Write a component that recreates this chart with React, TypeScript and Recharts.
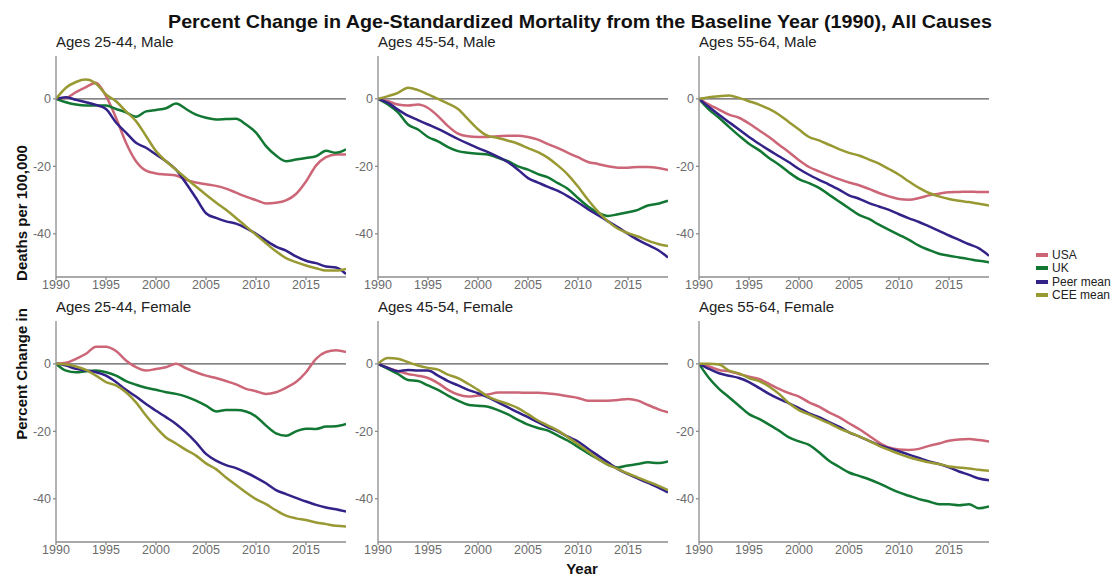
import { LineChart, Line, XAxis, YAxis, ReferenceLine } from "recharts"

const years = [
  1990, 1991, 1992, 1993, 1994, 1995, 1996, 1997, 1998, 1999,
  2000, 2001, 2002, 2003, 2004, 2005, 2006, 2007, 2008, 2009,
  2010, 2011, 2012, 2013, 2014, 2015, 2016, 2017, 2018, 2019,
]
const seriesNames = ["USA", "UK", "Peer mean", "CEE mean"]
const seriesColors = ["#CC6677", "#117733", "#332288", "#999933"]
const xTicks = [1990, 1995, 2000, 2005, 2010, 2015]
const yTicks = [-40, -20, 0]

// Ages 25-44, Male
const usaM2544 = [0, 0.3, 2, 3.5, 4.8, 0.8, -5.6, -13, -18.5, -21.3, -22.1, -22.4, -22.7, -24, -24.8, -25.3, -25.8, -26.6, -27.8, -29, -30, -31, -30.8, -30.1, -28.2, -24.5, -19.8, -17.3, -16.5, -16.5]
const ukM2544 = [0, -1, -1.7, -2, -2, -2, -3, -4, -5.3, -3.7, -3.3, -2.8, -1.4, -3, -4.7, -5.6, -6.1, -6, -5.9, -7.6, -10, -14, -16.8, -18.5, -18, -17.5, -17, -15.4, -16, -15]
const peerM2544 = [0, 0.5, -0.3, -1, -1.8, -3, -7, -10, -13, -14.5, -16.5, -18.5, -21, -25, -29.4, -33.9, -35.3, -36.3, -37, -38.3, -40, -42, -43.8, -45, -46.7, -48, -48.7, -49.7, -50, -51.9]
const ceeM2544 = [0, 3.3, 5, 5.7, 4.5, 1.3, -0.7, -3.7, -6.6, -11, -15.5, -18.5, -21, -23.5, -26, -28.4, -30.7, -32.9, -35.3, -37.8, -40.3, -42.8, -45.2, -47.2, -48.4, -49.4, -50.2, -50.9, -50.9, -50.4]

// Ages 45-54, Male
const usaM4554 = [0, -0.7, -1.7, -2, -1.7, -2.7, -5.1, -8.1, -10.3, -11.1, -11.3, -11.3, -11.1, -10.9, -10.9, -11.3, -12.1, -13.4, -14.6, -16, -17.3, -18.7, -19.3, -20, -20.4, -20.4, -20.2, -20.2, -20.5, -21.1]
const ukM4554 = [0, -1.7, -4, -7.6, -9.1, -11.3, -12.6, -14.3, -15.5, -16, -16.3, -16.5, -17.5, -18.5, -20, -21, -22.3, -23.3, -25, -26.7, -29.4, -31.9, -33.7, -34.7, -34.2, -33.6, -32.9, -31.6, -31.1, -30.2]
const peerM4554 = [0, -1.2, -3.2, -5, -6.3, -7.6, -8.9, -10.4, -11.9, -13.3, -14.6, -15.8, -17.2, -18.8, -21, -23.5, -24.8, -26.1, -27.3, -28.9, -30.7, -32.7, -34.5, -36.3, -38.1, -40, -41.8, -43.3, -44.8, -47]
const ceeM4554 = [0, 0.8, 1.8, 3.3, 2.6, 1.3, 0, -1.4, -3, -6, -9, -11, -11.6, -12.4, -13.3, -14.6, -15.8, -17.5, -19.8, -22.5, -26, -29.9, -33.4, -36.3, -38.5, -39.8, -40.8, -42, -43, -43.6]

// Ages 55-64, Male
const usaM5564 = [0, -1.7, -3.2, -4.7, -5.6, -7.3, -9.3, -11.3, -13.6, -15.8, -18.2, -20.2, -21.5, -22.7, -23.8, -24.8, -25.6, -26.7, -27.9, -28.9, -29.7, -29.9, -29.4, -28.6, -28.1, -27.7, -27.6, -27.5, -27.6, -27.6]
const ukM5564 = [0, -3.2, -5.6, -8.3, -10.9, -13.3, -15.2, -17.5, -19.5, -21.8, -23.8, -25, -26.4, -28.4, -30.4, -32.4, -34.4, -35.6, -37.3, -38.8, -40.3, -41.8, -43.5, -44.8, -45.9, -46.5, -47, -47.5, -48, -48.4]
const peerM5564 = [0, -2.4, -4.7, -6.9, -9.1, -11.3, -13.3, -15.2, -17, -18.8, -20.8, -22.5, -24, -25.4, -26.9, -28.6, -29.6, -30.9, -31.9, -32.9, -34.2, -35.4, -36.5, -37.8, -39.1, -40.5, -41.8, -43.1, -44.3, -46.5]
const ceeM5564 = [0, 0.5, 0.8, 1, 0.3, -0.7, -1.7, -3, -4.7, -6.9, -9.1, -11.3, -12.3, -13.6, -14.9, -16, -16.8, -18, -19.2, -20.8, -22.5, -24.5, -26.4, -27.9, -28.9, -29.7, -30.2, -30.6, -31.1, -31.6]

// Ages 25-44, Female
const usaF2544 = [0, 0.3, 1.5, 3, 5.1, 5.1, 3.8, 1, -1, -2, -1.5, -1, 0, -1.3, -2.5, -3.5, -4.2, -5.1, -6.1, -7.4, -8.1, -8.9, -8.4, -7.1, -5.4, -2.5, 1.5, 3.5, 4, 3.5]
const ukF2544 = [0, -2, -2.5, -2.2, -2, -2.5, -3.5, -5.1, -6.2, -7.1, -7.7, -8.4, -8.9, -9.7, -10.9, -12.4, -14.1, -13.7, -13.7, -14.1, -15.6, -18.3, -20.6, -21.3, -20, -19.2, -19.3, -18.6, -18.5, -17.8]
const peerF2544 = [0, -0.5, -1.5, -2, -2.5, -3.5, -5.4, -7.7, -9.7, -11.9, -13.9, -15.8, -17.8, -20.3, -23.3, -26.7, -28.7, -30, -30.9, -32.2, -33.7, -35.4, -37.4, -38.6, -39.7, -40.8, -41.8, -42.6, -43.1, -43.8]
const ceeF2544 = [0, -0.2, -0.8, -1.8, -3.5, -5.4, -6.4, -8.4, -11.4, -15.3, -18.8, -21.8, -23.6, -25.5, -27.2, -29.5, -31.2, -33.7, -35.9, -38.1, -40.1, -41.6, -43.4, -45, -45.8, -46.3, -47, -47.5, -48, -48.2]

// Ages 45-54, Female
const usaF4554 = [0, -1.2, -2.2, -3, -3.5, -4.2, -5.7, -7.7, -9.1, -9.7, -9.4, -9.1, -8.5, -8.5, -8.5, -8.6, -8.6, -8.8, -9.1, -9.6, -10.1, -10.9, -10.9, -10.9, -10.7, -10.4, -10.9, -12.2, -13.4, -14.4]
const ukF4554 = [0, -1.5, -3, -4.8, -5.1, -6.4, -7.7, -9.4, -10.9, -12.1, -12.4, -12.7, -13.7, -15, -16.6, -18, -19, -19.8, -21.3, -22.8, -24.6, -26.5, -28.2, -29.9, -30.7, -30.1, -29.7, -29.2, -29.4, -28.9]
const peerF4554 = [0, -1.2, -2.2, -1.8, -2, -2, -3.5, -5.1, -6.4, -7.7, -8.7, -9.9, -11.4, -12.9, -14.4, -15.8, -17.3, -18.8, -20, -21.6, -23, -25.2, -27.2, -29.2, -31.2, -32.7, -34, -35.3, -36.6, -38.1]
const ceeF4554 = [0, 1.7, 1.5, 0.5, -0.5, -1.2, -1.7, -3.2, -4.2, -5.9, -7.7, -9.7, -10.9, -11.9, -13.1, -14.9, -16.8, -18.3, -19.8, -21.8, -23.8, -25.9, -28.2, -29.9, -31.2, -32.5, -33.7, -34.9, -36.1, -37.4]

// Ages 55-64, Female
const usaF5564 = [0, -0.8, -1.8, -2.2, -3, -3.8, -4.5, -5.9, -7.4, -8.7, -9.7, -11.4, -12.7, -14.4, -15.8, -17.6, -19.3, -21.3, -23.3, -24.8, -25.4, -25.5, -25.2, -24.3, -23.6, -22.8, -22.4, -22.3, -22.6, -23]
const ukF5564 = [0, -4.2, -7.4, -9.9, -12.4, -14.9, -16.3, -18, -19.8, -21.8, -23, -24, -26.2, -28.7, -30.5, -32.2, -33.2, -34.2, -35.4, -36.8, -38.1, -39.1, -40.1, -40.8, -41.6, -41.6, -41.9, -41.6, -42.8, -42.3]
const peerF5564 = [0, -1.5, -2.8, -3.5, -4.2, -5.4, -7.1, -8.9, -10.4, -11.7, -13.1, -14.7, -15.8, -17.3, -18.6, -20.3, -21.5, -22.8, -24, -25, -25.9, -26.9, -27.9, -28.9, -29.7, -30.7, -31.9, -32.9, -34, -34.5]
const ceeF5564 = [0, 0, -0.2, -2, -2.8, -4.2, -5.1, -6.7, -8.9, -11.7, -13.7, -15, -16.3, -17.6, -19.1, -20.3, -21.5, -22.8, -24.3, -25.5, -26.7, -27.7, -28.5, -29.2, -29.7, -30.4, -30.7, -31, -31.4, -31.7]

const panels = [
  { title: "Ages 25-44, Male", series: [usaM2544, ukM2544, peerM2544, ceeM2544] },
  { title: "Ages 45-54, Male", series: [usaM4554, ukM4554, peerM4554, ceeM4554] },
  { title: "Ages 55-64, Male", series: [usaM5564, ukM5564, peerM5564, ceeM5564] },
  { title: "Ages 25-44, Female", series: [usaF2544, ukF2544, peerF2544, ceeF2544] },
  { title: "Ages 45-54, Female", series: [usaF4554, ukF4554, peerF4554, ceeF4554] },
  { title: "Ages 55-64, Female", series: [usaF5564, ukF5564, peerF5564, ceeF5564] },
]

const plotLefts = [56, 378, 699]
const plotTops = [56, 321]
const FONT = "'Liberation Sans', Arial, sans-serif"
const tickStyle = { fill: "#6b6b6b", fontSize: 12.5, fontFamily: FONT }

function Panel({ title, series, left, top }: { title: string; series: number[][]; left: number; top: number }) {
  const data = years.map((year, i) => {
    const row: Record<string, number> = { year }
    seriesNames.forEach((name, s) => {
      row[name] = series[s][i]
    })
    return row
  })

  return (
    <>
      <div
        style={{
          position: "absolute",
          left: left,
          top: top - 22,
          fontSize: 15,
          lineHeight: "16px",
          color: "#222",
          fontFamily: FONT,
          whiteSpace: "nowrap",
        }}
      >
        {title}
      </div>
      <div style={{ position: "absolute", left: left - 40, top: top - 10 }}>
        <LineChart width={335} height={256} data={data} margin={{ top: 10, right: 5, left: 0, bottom: 0 }}>
          <XAxis
            dataKey="year"
            type="number"
            domain={[1990, 2019]}
            allowDataOverflow
            ticks={xTicks}
            interval={0}
            height={25}
            tickSize={3}
            tickMargin={0}
            tick={tickStyle}
            stroke="#8c8c8c"
            strokeWidth={1.3}
          />
          <YAxis
            type="number"
            domain={[-52.8, 12.7]}
            allowDataOverflow
            ticks={yTicks}
            interval={0}
            width={40}
            tickSize={3}
            tickMargin={2}
            tick={tickStyle}
            stroke="#8c8c8c"
            strokeWidth={1.3}
          />
          <ReferenceLine y={0} stroke="#5a5a5a" strokeWidth={1.4} />
          {seriesNames.map((name, s) => (
            <Line
              key={name}
              type="monotone"
              dataKey={name}
              stroke={seriesColors[s]}
              strokeWidth={2.5}
              dot={false}
              activeDot={false}
              isAnimationActive={false}
            />
          ))}
        </LineChart>
      </div>
    </>
  )
}

export default function App() {
  return (
    <div
      style={{
        position: "relative",
        width: 1113,
        height: 575,
        background: "#fff",
        overflow: "hidden",
        fontFamily: FONT,
      }}
    >
      <style>{`body{margin:0}`}</style>
      {panels.map((p, i) => (
        <Panel
          key={p.title}
          title={p.title}
          series={p.series}
          left={plotLefts[i % 3]}
          top={plotTops[Math.floor(i / 3)]}
        />
      ))}

      <svg width={1113} height={575} style={{ position: "absolute", left: 0, top: 0, pointerEvents: "none" }}>
        <text
          x={580}
          y={21}
          textAnchor="middle"
          dominantBaseline="central"
          fontSize={18.5}
          fontWeight="bold"
          fontFamily={FONT}
          fill="#111"
          textLength={824}
          lengthAdjust="spacingAndGlyphs"
        >
          Percent Change in Age-Standardized Mortality from the Baseline Year (1990), All Causes
        </text>
        <text
          x={21}
          y={374}
          textAnchor="middle"
          dominantBaseline="central"
          fontSize={15}
          fontWeight="bold"
          fontFamily={FONT}
          fill="#111"
          transform="rotate(-90 21 374)"
        >
          Percent Change in
        </text>
        <text
          x={21}
          y={213}
          textAnchor="middle"
          dominantBaseline="central"
          fontSize={15}
          fontWeight="bold"
          fontFamily={FONT}
          fill="#111"
          transform="rotate(-90 21 213)"
        >
          Deaths per 100,000
        </text>
        <text
          x={582}
          y={568}
          textAnchor="middle"
          dominantBaseline="central"
          fontSize={15}
          fontWeight="bold"
          fontFamily={FONT}
          fill="#111"
        >
          Year
        </text>
      </svg>

      {seriesNames.map((name, s) => (
        <div
          key={name}
          style={{
            position: "absolute",
            left: 1036,
            top: 248 + s * 13.5,
            height: 13,
            display: "flex",
            alignItems: "center",
            fontSize: 12,
            color: "#222",
            whiteSpace: "nowrap",
          }}
        >
          <span style={{ display: "inline-block", width: 12, height: 4, background: seriesColors[s], marginRight: 4 }} />
          {name}
        </div>
      ))}
    </div>
  )
}
